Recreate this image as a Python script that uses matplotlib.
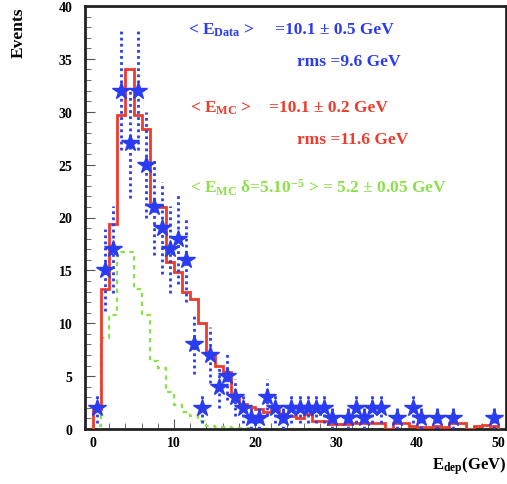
import numpy as np
import matplotlib
matplotlib.use("Agg")
import matplotlib.pyplot as plt
from matplotlib.ticker import MultipleLocator

plt.rcParams['font.family'] = ['Liberation Serif', 'DejaVu Serif']
plt.rcParams['font.weight'] = 'bold'
plt.rcParams['mathtext.fontset'] = 'custom'
plt.rcParams['mathtext.rm'] = 'Liberation Serif:bold'
plt.rcParams['mathtext.it'] = 'Liberation Serif:bold'
plt.rcParams['mathtext.bf'] = 'Liberation Serif:bold'

# 1 GeV bins from 0 to 50
bin_edges = np.arange(0, 51, 1)

# measured events per bin
data_counts = [2, 15, 17, 32, 27, 32, 25, 21, 19, 17,
               18, 16, 8, 2, 7, 4, 5, 3, 2, 1,
               1, 3, 2, 1, 2, 2, 2, 2, 2, 1,
               0, 1, 2, 1, 2, 2, 0, 1, 0, 2,
               1, 0, 1, 0, 1, 0, 0, 0, 0, 1]

# MC prediction (red histogram)
mc_counts = [1.9, 13.2, 19.4, 29.7, 34.0, 29.7, 28.4, 21.1, 21.0, 15.8,
             14.8, 13.0, 12.3, 10.0, 7.0, 6.0, 5.4, 3.2, 2.4, 2.1,
             1.9, 1.6, 1.8, 1.4, 1.2, 1.0, 1.4, 0.8, 0.8, 0.5,
             0.5, 0.5, 0.6, 0.6, 0.6, 0.6, 0.0, 0.6, 0.6, 0.3,
             0.2, 0.2, 0.3, 0.2, 0.6, 0.6, 0.0, 0.3, 0.4, 0.3]

# MC with delta = 5e-5 (green dashed histogram)
mc_delta_counts = [0.3, 8.6, 10.8, 16.7, 16.7, 13.2, 10.8, 6.4, 5.8, 3.5,
                   2.3, 1.6, 1.2, 0.8, 0.3, 0.2, 0.15, 0.1, 0.1, 0.05,
                   0, 0, 0, 0, 0, 0, 0, 0, 0, 0,
                   0, 0, 0, 0, 0, 0, 0, 0, 0, 0,
                   0, 0, 0, 0, 0, 0, 0, 0, 0, 0]

blue = '#2a3cf2'
red = '#ee3b2b'
green = '#8ee04a'

fig = plt.figure(figsize=(5.07, 4.85), dpi=100)
ax = fig.add_axes([85 / 507, 1 - 430 / 485, 421 / 507, 423 / 485])

centers = (bin_edges[:-1] + bin_edges[1:]) / 2
counts = np.array(data_counts, dtype=float)

ax.stairs(mc_delta_counts, bin_edges, color=green, lw=1.6, ls=(0, (2, 2)), zorder=2)
ax.stairs(mc_counts, bin_edges, color=red, lw=2.0, zorder=3)

# data with sqrt(N) errors, dotted error bars
nz = counts > 0
err = np.sqrt(counts[nz])
for x, y, e in zip(centers[nz], counts[nz], err):
    ax.plot([x, x], [y - e, y + e], color=blue, lw=2.0, ls=(0, (1, 1.2)), zorder=4)
ax.plot(centers[nz], counts[nz], ls='none', marker='*', ms=13, color=blue,
        mec=blue, zorder=5)

ax.set_xlim(-1, 51)
ax.set_ylim(0, 40)
ax.xaxis.set_major_locator(MultipleLocator(10))
ax.xaxis.set_minor_locator(MultipleLocator(2))
ax.yaxis.set_major_locator(MultipleLocator(5))
ax.yaxis.set_minor_locator(MultipleLocator(1))
ax.tick_params(which='both', direction='in', top=False, right=False,
               labelsize=10, color='#555555')
ax.tick_params(axis='x', pad=5)
ax.tick_params(axis='y', pad=9)
ax.tick_params(which='major', length=7)
ax.tick_params(which='minor', length=4)
for lab in ax.get_xticklabels() + ax.get_yticklabels():
    lab.set_fontweight('bold')
for sp in ax.spines.values():
    sp.set_linewidth(2.0)
    sp.set_color('#222222')

ax.set_ylabel('Events', fontsize=12.5, fontweight='bold', loc='top')
ax.yaxis.set_label_coords(-0.138, 1.0)
ax.set_xlabel(r'E$\mathrm{_{dep}}$(GeV)', fontsize=12, fontweight='bold', loc='right')
ax.xaxis.set_label_coords(1.0, -0.06)

fs = 12.5
ax.text(0.245, 0.946, r'< E$\mathrm{_{Data}}$ >', color=blue, fontsize=fs,
        transform=ax.transAxes, va='center')
ax.text(0.451, 0.946, '=10.1 \u00b1 0.5 GeV', color=blue, fontsize=fs,
        transform=ax.transAxes, va='center')
ax.text(0.504, 0.870, 'rms =9.6 GeV', color=blue, fontsize=fs,
        transform=ax.transAxes, va='center')
ax.text(0.249, 0.761, r'< E$\mathrm{_{MC}}$ >', color=red, fontsize=fs,
        transform=ax.transAxes, va='center')
ax.text(0.437, 0.761, '=10.1 \u00b1 0.2 GeV', color=red, fontsize=fs,
        transform=ax.transAxes, va='center')
ax.text(0.504, 0.686, 'rms =11.6 GeV', color=red, fontsize=fs,
        transform=ax.transAxes, va='center')
ax.text(0.249, 0.572, '< E$\\mathrm{_{MC}}$ \u03b4=5.10$\\mathrm{^{-5}}$ > = 5.2 \u00b1 0.05 GeV',
        color=green, fontsize=fs, transform=ax.transAxes, va='center')

fig.savefig('out.png', dpi=100)
